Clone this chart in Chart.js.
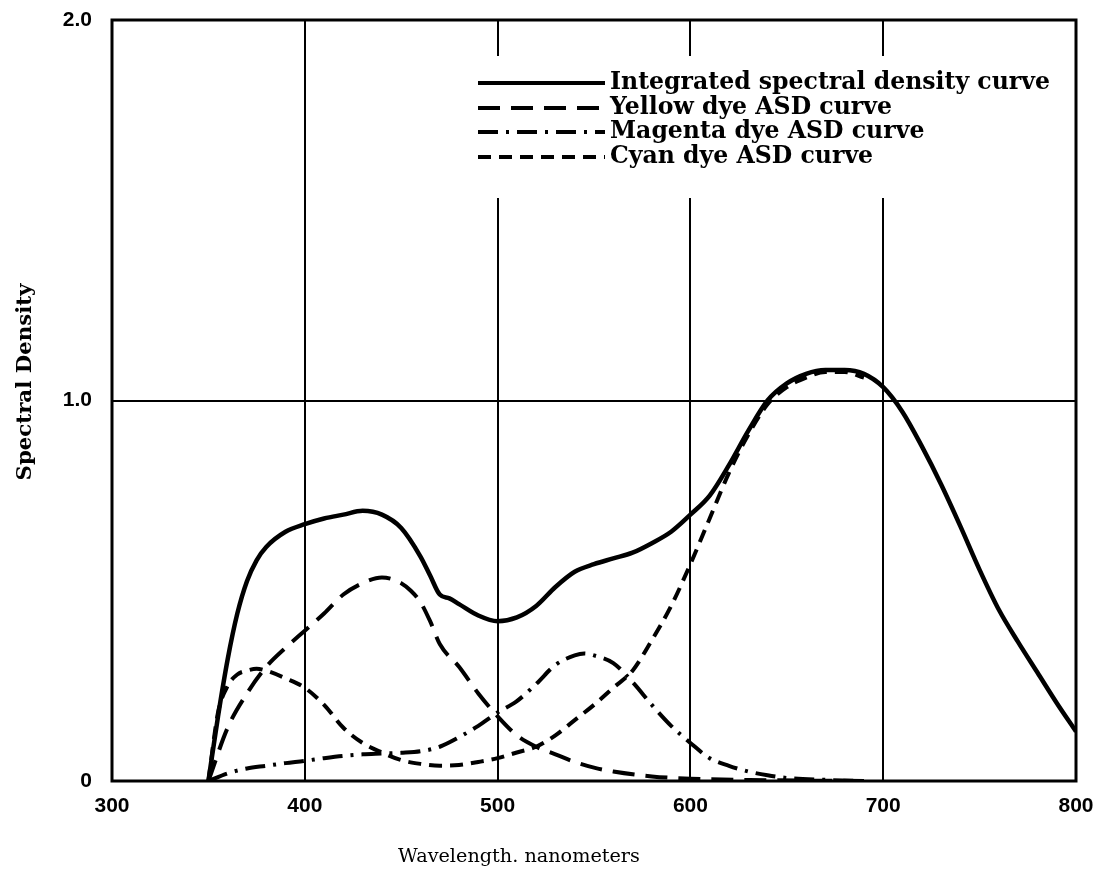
<!DOCTYPE html>
<html>
<head>
<meta charset="utf-8">
<script src="https://cdn.jsdelivr.net/npm/chart.js@4/dist/chart.umd.min.js"></script>
<style>
html,body{margin:0;padding:0;background:#fff;}
#wrap{width:1096px;height:872px;position:relative;}
</style>
</head>
<body>
<div id="wrap"><canvas id="c" width="1096" height="872"></canvas></div>
<script>
// ---- data ----
const xTicks = [300, 400, 500, 600, 700, 800];
const yTicks = [0, 1.0, 2.0];
const seriesNames = ["Integrated spectral density curve", "Yellow dye ASD curve", "Magenta dye ASD curve", "Cyan dye ASD curve"];

const integratedNm  = [350,355,360,365,370,375,380,390,400,410,420,430,440,450,460,465,470,475,480,490,500,510,520,530,540,550,560,570,580,590,600,610,620,630,640,650,660,670,680,690,700,710,720,730,740,750,760,770,780,790,800];
const integratedVal = [0,0.17,0.32,0.44,0.525,0.58,0.615,0.655,0.675,0.69,0.70,0.71,0.70,0.665,0.59,0.54,0.49,0.48,0.465,0.435,0.42,0.43,0.46,0.51,0.55,0.57,0.585,0.60,0.625,0.655,0.70,0.75,0.83,0.92,1.00,1.045,1.07,1.08,1.08,1.07,1.035,0.97,0.88,0.78,0.67,0.555,0.45,0.365,0.285,0.205,0.13];

const yellowNm  = [350,360,370,380,390,400,410,420,430,440,450,455,460,465,470,480,490,500,510,520,530,540,550,560,580,600,640,690];
const yellowVal = [0,0.14,0.23,0.30,0.35,0.395,0.44,0.49,0.52,0.535,0.52,0.50,0.47,0.42,0.36,0.30,0.23,0.17,0.12,0.09,0.07,0.05,0.035,0.025,0.012,0.006,0.002,0];

const magentaNm  = [350,360,370,380,390,400,410,420,430,440,450,460,470,480,490,500,510,520,530,540,545,550,560,570,580,590,600,610,620,630,640,650,670,690];
const magentaVal = [0,0.02,0.033,0.04,0.047,0.053,0.06,0.066,0.07,0.072,0.074,0.078,0.09,0.115,0.145,0.18,0.21,0.255,0.305,0.33,0.335,0.33,0.31,0.26,0.20,0.145,0.10,0.06,0.04,0.025,0.015,0.008,0.003,0];

const cyanNm  = [350,355,360,365,370,375,380,390,400,410,420,430,440,450,460,470,480,490,500,510,520,530,540,550,560,570,580,590,600,610,620,630,640,650,660,670,680,690];
const cyanVal = [0,0.18,0.25,0.28,0.29,0.295,0.29,0.27,0.245,0.20,0.14,0.10,0.075,0.055,0.045,0.04,0.042,0.05,0.06,0.075,0.09,0.12,0.16,0.20,0.245,0.29,0.37,0.46,0.57,0.69,0.81,0.91,0.99,1.035,1.06,1.075,1.075,1.06];

const dashes = [[], [22, 11], [20, 8, 3, 8], [13, 8]];

function pts(nm, v){ return nm.map((x,i)=>({x:x, y:v[i]})); }
const seriesPts = [pts(integratedNm,integratedVal), pts(yellowNm,yellowVal), pts(magentaNm,magentaVal), pts(cyanNm,cyanVal)];

const FRAME = {left:112};

const framePlugin = {
  id:'framePlugin',
  afterDraw(chart){
    const ctx = chart.ctx, a = chart.chartArea;
    ctx.save();
    // legend box (white background hides grid lines)
    ctx.fillStyle = '#fff';
    ctx.fillRect(468, 56, 596, 142);
    // frame
    ctx.strokeStyle = '#000';
    ctx.lineWidth = 3;
    ctx.strokeRect(a.left, a.top, a.right - a.left, a.bottom - a.top);
    // legend
    const rowsY = [83, 108, 132, 157];
    const x0 = 478, x1 = 605, tx = 610;
    ctx.font = 'bold 20px "DejaVu Serif"';
    const w = ctx.measureText(seriesNames[0]).width;
    const fs = 20 * 440 / w;
    ctx.font = 'bold ' + fs.toFixed(2) + 'px "DejaVu Serif"';
    ctx.textBaseline = 'middle';
    ctx.textAlign = 'left';
    ctx.fillStyle = '#000';
    seriesNames.forEach((name,i)=>{
      ctx.beginPath();
      ctx.setLineDash(dashes[i]);
      ctx.lineWidth = 4;
      ctx.moveTo(x0, rowsY[i]);
      ctx.lineTo(x1, rowsY[i]);
      ctx.stroke();
      ctx.setLineDash([]);
      ctx.fillText(name, tx, rowsY[i]);
    });
    // axis titles
    ctx.font = '19px "DejaVu Serif"';
    const xt = 'Wavelength. nanometers';
    const xw = ctx.measureText(xt).width;
    ctx.font = (19*242/xw).toFixed(2) + 'px "DejaVu Serif"';
    ctx.textAlign = 'center';
    ctx.fillText(xt, 519, 857);
    ctx.translate(25, 382);
    ctx.rotate(-Math.PI/2);
    ctx.font = 'bold 19px "DejaVu Serif"';
    const yt = 'Spectral Density';
    const yw = ctx.measureText(yt).width;
    ctx.font = 'bold ' + (19*197/yw).toFixed(2) + 'px "DejaVu Serif"';
    ctx.fillText(yt, 0, 0);
    ctx.restore();
  }
};

new Chart(document.getElementById('c'), {
  type:'line',
  data:{
    datasets: seriesPts.map((p,i)=>({
      label: seriesNames[i],
      data: p,
      borderColor:'#000',
      backgroundColor:'#000',
      borderWidth: i===0 ? 4.5 : 4,
      borderDash: dashes[i],
      pointRadius:0,
      fill:false,
      cubicInterpolationMode:'monotone'
    }))
  },
  options:{
    responsive:false,
    animation:false,
    events:[],
    layout:{padding:{left:0, right:20, top:20, bottom:0}},
    plugins:{legend:{display:false}, tooltip:{enabled:false}},
    scales:{
      x:{
        type:'linear', min:300, max:800,
        afterBuildTicks(s){ s.ticks = xTicks.map(v=>({value:v})); },
        afterFit(s){ s.height = 91; s.paddingLeft = 0; s.paddingRight = 0; },
        grid:{drawTicks:false, lineWidth:2, color(ctx){ const v = ctx.tick && ctx.tick.value; return (v===300||v===800) ? 'rgba(0,0,0,0)' : '#000'; }},
        border:{display:false},
        ticks:{padding:13, color:'#000', font:{family:'"Liberation Sans"', weight:'bold', size:21}, maxRotation:0,
               callback(v){ return String(v); }}
      },
      y:{
        type:'linear', min:0, max:2,
        afterBuildTicks(s){ s.ticks = yTicks.map(v=>({value:v})); },
        afterFit(s){ s.width = FRAME.left; s.paddingTop = 0; s.paddingBottom = 0; },
        grid:{drawTicks:false, lineWidth:2, color(ctx){ const v = ctx.tick && ctx.tick.value; return v===1 ? '#000' : 'rgba(0,0,0,0)'; }},
        border:{display:false},
        ticks:{padding:20, color:'#000', font:{family:'"Liberation Sans"', weight:'bold', size:21},
               callback(v){ return v===0 ? '0' : v.toFixed(1); }}
      }
    }
  },
  plugins:[framePlugin]
});
</script>
</body>
</html>
